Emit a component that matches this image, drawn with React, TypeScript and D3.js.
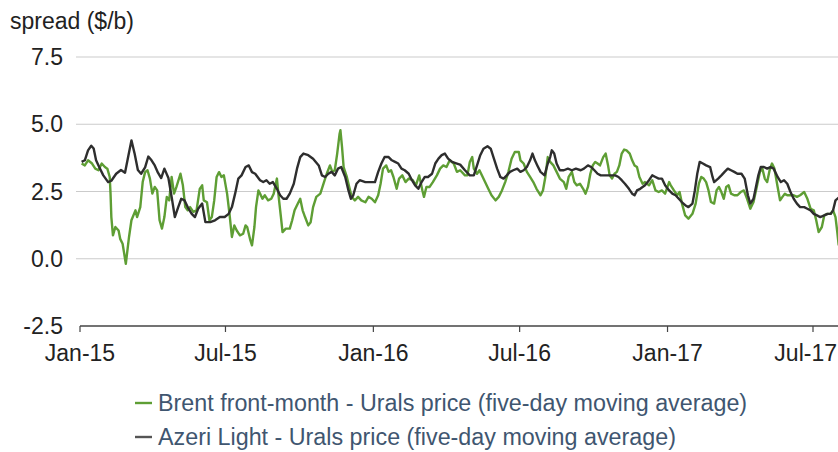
import * as d3 from "d3";

// Brent front-month minus Urals (five-day moving average), $/b
const brentUrals: [string, number][] = [
  ["2015-01-03", 3.54], ["2015-01-07", 3.47], ["2015-01-11", 3.66], ["2015-01-16", 3.54],
  ["2015-01-20", 3.35], ["2015-01-24", 3.29], ["2015-01-28", 3.54], ["2015-02-01", 3.41],
  ["2015-02-04", 3.35], ["2015-02-07", 3.04], ["2015-02-08", 2.42], ["2015-02-09", 1.55],
  ["2015-02-11", 0.87], ["2015-02-14", 1.18], ["2015-02-18", 1.05], ["2015-02-20", 0.74],
  ["2015-02-23", 0.56], ["2015-02-25", 0.19], ["2015-02-27", -0.19], ["2015-03-01", 0.31],
  ["2015-03-03", 0.81], ["2015-03-06", 1.43], ["2015-03-11", 1.8], ["2015-03-13", 1.55],
  ["2015-03-17", 1.92], ["2015-03-20", 2.85], ["2015-03-23", 3.22], ["2015-03-26", 3.29],
  ["2015-03-29", 2.98], ["2015-04-01", 2.42], ["2015-04-04", 2.67], ["2015-04-07", 2.54],
  ["2015-04-10", 1.43], ["2015-04-13", 1.12], ["2015-04-16", 1.55], ["2015-04-19", 2.3],
  ["2015-04-22", 2.17], ["2015-04-25", 3.04], ["2015-04-28", 2.42], ["2015-05-01", 2.67],
  ["2015-05-06", 3.16], ["2015-05-09", 2.73], ["2015-05-12", 1.92], ["2015-05-15", 1.8],
  ["2015-05-18", 1.92], ["2015-05-22", 1.74], ["2015-05-26", 1.8], ["2015-05-30", 2.6],
  ["2015-06-02", 2.73], ["2015-06-04", 2.17], ["2015-06-08", 2.1], ["2015-06-11", 1.43],
  ["2015-06-14", 1.55], ["2015-06-17", 2.17], ["2015-06-20", 3.04], ["2015-06-23", 3.22],
  ["2015-06-26", 3.04], ["2015-06-29", 3.1], ["2015-07-03", 2.42], ["2015-07-06", 1.67],
  ["2015-07-09", 0.81], ["2015-07-12", 1.24], ["2015-07-15", 1.05], ["2015-07-19", 0.87],
  ["2015-07-23", 0.93], ["2015-07-26", 1.24], ["2015-07-28", 1.18], ["2015-08-01", 0.68],
  ["2015-08-03", 0.5], ["2015-08-06", 1.18], ["2015-08-08", 1.92], ["2015-08-11", 2.54],
  ["2015-08-13", 2.42], ["2015-08-16", 2.23], ["2015-08-19", 2.36], ["2015-08-23", 2.17],
  ["2015-08-27", 2.23], ["2015-08-30", 2.42], ["2015-09-03", 2.98], ["2015-09-05", 2.36],
  ["2015-09-08", 1.55], ["2015-09-10", 0.99], ["2015-09-14", 1.12], ["2015-09-19", 1.12],
  ["2015-09-22", 1.43], ["2015-09-25", 1.8], ["2015-09-28", 1.99], ["2015-10-02", 2.23],
  ["2015-10-05", 1.8], ["2015-10-08", 1.55], ["2015-10-12", 1.24], ["2015-10-15", 1.36],
  ["2015-10-18", 1.92], ["2015-10-22", 2.3], ["2015-10-27", 2.42], ["2015-10-31", 2.79],
  ["2015-11-04", 3.16], ["2015-11-08", 3.47], ["2015-11-11", 3.23], ["2015-11-14", 3.29],
  ["2015-11-17", 3.91], ["2015-11-20", 4.65], ["2015-11-21", 4.78], ["2015-11-23", 4.16],
  ["2015-11-25", 3.41], ["2015-11-29", 3.04], ["2015-12-02", 2.67], ["2015-12-05", 2.3],
  ["2015-12-09", 2.17], ["2015-12-13", 2.3], ["2015-12-17", 2.17], ["2015-12-22", 2.1],
  ["2015-12-26", 2.3], ["2015-12-30", 2.23], ["2016-01-03", 2.1], ["2016-01-07", 2.36],
  ["2016-01-10", 2.79], ["2016-01-13", 3.35], ["2016-01-17", 3.47], ["2016-01-20", 3.23],
  ["2016-01-23", 3.29], ["2016-01-26", 3.04], ["2016-01-30", 2.6], ["2016-02-02", 2.98],
  ["2016-02-06", 3.1], ["2016-02-10", 2.85], ["2016-02-14", 2.98], ["2016-02-19", 2.92],
  ["2016-02-23", 2.73], ["2016-02-27", 3.1], ["2016-03-02", 2.54], ["2016-03-04", 2.3],
  ["2016-03-07", 2.67], ["2016-03-11", 2.67], ["2016-03-15", 2.85], ["2016-03-20", 3.1],
  ["2016-03-24", 3.35], ["2016-03-28", 3.47], ["2016-04-01", 3.41], ["2016-04-05", 3.66],
  ["2016-04-10", 3.54], ["2016-04-14", 3.23], ["2016-04-18", 3.29], ["2016-04-24", 3.1],
  ["2016-04-27", 3.1], ["2016-04-30", 3.6], ["2016-05-03", 3.78], ["2016-05-05", 3.35],
  ["2016-05-09", 3.16], ["2016-05-12", 3.29], ["2016-05-15", 3.1], ["2016-05-19", 2.85],
  ["2016-05-23", 2.6], ["2016-05-27", 2.36], ["2016-06-01", 2.17], ["2016-06-05", 2.3],
  ["2016-06-09", 2.54], ["2016-06-13", 2.85], ["2016-06-17", 3.23], ["2016-06-21", 3.72],
  ["2016-06-25", 3.97], ["2016-06-30", 3.97], ["2016-07-02", 3.66], ["2016-07-06", 3.54],
  ["2016-07-10", 3.23], ["2016-07-14", 3.04], ["2016-07-18", 2.85], ["2016-07-22", 2.6],
  ["2016-07-27", 2.36], ["2016-07-30", 2.54], ["2016-08-02", 3.04], ["2016-08-05", 3.78],
  ["2016-08-08", 3.6], ["2016-08-12", 3.47], ["2016-08-16", 3.23], ["2016-08-20", 2.98],
  ["2016-08-25", 2.85], ["2016-08-28", 2.6], ["2016-08-31", 3.04], ["2016-09-04", 3.23],
  ["2016-09-07", 2.85], ["2016-09-10", 2.73], ["2016-09-14", 2.79], ["2016-09-18", 2.6],
  ["2016-09-21", 2.42], ["2016-09-24", 2.67], ["2016-09-27", 3.16], ["2016-09-30", 3.47],
  ["2016-10-03", 3.6], ["2016-10-06", 3.54], ["2016-10-09", 3.47], ["2016-10-13", 3.78],
  ["2016-10-16", 3.91], ["2016-10-19", 3.47], ["2016-10-21", 3.1], ["2016-10-24", 2.98],
  ["2016-10-27", 3.16], ["2016-10-30", 3.23], ["2016-11-02", 3.47], ["2016-11-05", 3.91],
  ["2016-11-08", 4.06], ["2016-11-11", 4.03], ["2016-11-15", 3.91], ["2016-11-18", 3.66],
  ["2016-11-21", 3.47], ["2016-11-24", 3.41], ["2016-11-27", 3.04], ["2016-12-01", 2.79],
  ["2016-12-04", 2.85], ["2016-12-09", 2.73], ["2016-12-13", 2.92], ["2016-12-17", 2.54],
  ["2016-12-21", 2.48], ["2016-12-25", 2.54], ["2016-12-29", 2.42], ["2017-01-03", 2.85],
  ["2017-01-05", 2.73], ["2017-01-09", 2.54], ["2017-01-13", 2.36], ["2017-01-16", 2.48],
  ["2017-01-19", 2.05], ["2017-01-23", 1.61], ["2017-01-27", 1.49], ["2017-02-01", 1.67],
  ["2017-02-05", 2.05], ["2017-02-09", 2.79], ["2017-02-12", 3.04], ["2017-02-15", 2.98],
  ["2017-02-18", 2.85], ["2017-02-21", 2.54], ["2017-02-24", 2.11], ["2017-02-28", 2.05],
  ["2017-03-03", 2.54], ["2017-03-06", 2.67], ["2017-03-09", 2.48], ["2017-03-12", 2.23],
  ["2017-03-15", 2.67], ["2017-03-18", 2.73], ["2017-03-21", 2.42], ["2017-03-25", 2.36],
  ["2017-03-29", 2.36], ["2017-04-02", 2.48], ["2017-04-06", 2.54], ["2017-04-10", 2.23],
  ["2017-04-14", 1.86], ["2017-04-18", 2.11], ["2017-04-22", 2.67], ["2017-04-26", 3.23],
  ["2017-04-29", 3.35], ["2017-05-02", 2.98], ["2017-05-05", 2.85], ["2017-05-08", 3.29],
  ["2017-05-11", 3.54], ["2017-05-14", 3.35], ["2017-05-18", 2.67], ["2017-05-21", 2.17],
  ["2017-05-24", 2.3], ["2017-05-27", 2.42], ["2017-05-30", 2.36], ["2017-06-03", 2.36],
  ["2017-06-07", 2.36], ["2017-06-11", 2.3], ["2017-06-15", 2.36], ["2017-06-20", 2.48],
  ["2017-06-24", 2.23], ["2017-06-28", 1.86], ["2017-07-02", 1.8], ["2017-07-05", 1.43],
  ["2017-07-08", 0.99], ["2017-07-12", 1.18], ["2017-07-15", 1.61], ["2017-07-19", 1.67],
  ["2017-07-23", 1.67], ["2017-07-26", 1.8], ["2017-07-29", 1.55], ["2017-07-31", 1.05],
  ["2017-08-02", 0.5],
];

// Azeri Light minus Urals (five-day moving average), $/b
const azeriUrals: [string, number][] = [
  ["2015-01-03", 3.6], ["2015-01-07", 3.66], ["2015-01-11", 4.03], ["2015-01-15", 4.2],
  ["2015-01-18", 4.1], ["2015-01-21", 3.66], ["2015-01-25", 3.4], ["2015-01-30", 3.1],
  ["2015-02-05", 2.85], ["2015-02-09", 2.9], ["2015-02-15", 3.16], ["2015-02-21", 3.3],
  ["2015-02-26", 3.2], ["2015-03-02", 3.8], ["2015-03-06", 4.4], ["2015-03-10", 3.9],
  ["2015-03-14", 3.3], ["2015-03-18", 3.16], ["2015-03-23", 3.4], ["2015-03-27", 3.8],
  ["2015-03-31", 3.66], ["2015-04-04", 3.47], ["2015-04-08", 3.2], ["2015-04-12", 3.0],
  ["2015-04-16", 3.35], ["2015-04-21", 3.0], ["2015-04-25", 2.3], ["2015-04-29", 1.55],
  ["2015-05-03", 1.9], ["2015-05-07", 2.23], ["2015-05-11", 2.17], ["2015-05-16", 1.86],
  ["2015-05-20", 1.67], ["2015-05-24", 1.55], ["2015-05-28", 1.86], ["2015-06-02", 2.05],
  ["2015-06-06", 1.36], ["2015-06-12", 1.36], ["2015-06-18", 1.43], ["2015-06-24", 1.55],
  ["2015-06-30", 1.55], ["2015-07-05", 1.67], ["2015-07-09", 1.92], ["2015-07-13", 2.42],
  ["2015-07-17", 2.98], ["2015-07-21", 3.1], ["2015-07-26", 3.41], ["2015-07-30", 3.47],
  ["2015-08-03", 3.22], ["2015-08-07", 3.16], ["2015-08-13", 2.92], ["2015-08-17", 2.85],
  ["2015-08-21", 2.92], ["2015-08-25", 2.79], ["2015-08-29", 2.85], ["2015-09-03", 2.6],
  ["2015-09-07", 2.36], ["2015-09-11", 2.23], ["2015-09-15", 2.23], ["2015-09-19", 2.42],
  ["2015-09-24", 2.79], ["2015-09-28", 3.35], ["2015-10-02", 3.78], ["2015-10-06", 3.91],
  ["2015-10-12", 3.85], ["2015-10-18", 3.72], ["2015-10-25", 3.47], ["2015-10-29", 3.1],
  ["2015-11-02", 3.04], ["2015-11-06", 3.16], ["2015-11-10", 3.23], ["2015-11-14", 3.1],
  ["2015-11-18", 3.35], ["2015-11-22", 3.41], ["2015-11-27", 3.04], ["2015-12-01", 2.54],
  ["2015-12-04", 2.23], ["2015-12-07", 2.36], ["2015-12-11", 2.79], ["2015-12-15", 2.92],
  ["2015-12-22", 2.85], ["2015-12-28", 2.85], ["2016-01-03", 2.85], ["2016-01-07", 3.23],
  ["2016-01-11", 3.54], ["2016-01-15", 3.78], ["2016-01-20", 3.78], ["2016-01-24", 3.66],
  ["2016-01-28", 3.6], ["2016-02-01", 3.54], ["2016-02-05", 3.35], ["2016-02-09", 3.29],
  ["2016-02-14", 3.16], ["2016-02-18", 2.92], ["2016-02-22", 2.73], ["2016-02-26", 2.6],
  ["2016-03-01", 2.85], ["2016-03-05", 3.04], ["2016-03-09", 3.04], ["2016-03-14", 3.16],
  ["2016-03-18", 3.54], ["2016-03-22", 3.72], ["2016-03-26", 3.85], ["2016-03-30", 3.91],
  ["2016-04-03", 3.72], ["2016-04-08", 3.6], ["2016-04-14", 3.54], ["2016-04-18", 3.5],
  ["2016-04-24", 3.29], ["2016-04-30", 3.1], ["2016-05-05", 3.1], ["2016-05-09", 3.47],
  ["2016-05-13", 3.85], ["2016-05-17", 4.09], ["2016-05-22", 4.18], ["2016-05-26", 4.09],
  ["2016-05-30", 3.72], ["2016-06-03", 3.35], ["2016-06-07", 3.04], ["2016-06-11", 2.98],
  ["2016-06-15", 3.1], ["2016-06-19", 3.23], ["2016-06-23", 3.29], ["2016-06-28", 3.35],
  ["2016-07-02", 3.23], ["2016-07-06", 3.29], ["2016-07-10", 3.41], ["2016-07-14", 3.66],
  ["2016-07-17", 3.91], ["2016-07-20", 3.66], ["2016-07-23", 3.47], ["2016-07-27", 3.23],
  ["2016-08-01", 3.1], ["2016-08-05", 3.54], ["2016-08-08", 3.78], ["2016-08-10", 4.03],
  ["2016-08-13", 3.91], ["2016-08-16", 3.54], ["2016-08-20", 3.29], ["2016-08-25", 3.29],
  ["2016-08-30", 3.35], ["2016-09-04", 3.29], ["2016-09-09", 3.35], ["2016-09-15", 3.29],
  ["2016-09-19", 3.35], ["2016-09-24", 3.47], ["2016-09-28", 3.41], ["2016-10-02", 3.29],
  ["2016-10-06", 3.16], ["2016-10-10", 3.1], ["2016-10-16", 3.1], ["2016-10-22", 3.1],
  ["2016-10-28", 3.1], ["2016-11-01", 3.04], ["2016-11-05", 2.92], ["2016-11-09", 2.79],
  ["2016-11-14", 2.6], ["2016-11-18", 2.42], ["2016-11-21", 2.36], ["2016-11-24", 2.54],
  ["2016-11-28", 2.6], ["2016-12-04", 2.73], ["2016-12-09", 2.92], ["2016-12-13", 3.1],
  ["2016-12-17", 3.04], ["2016-12-21", 2.98], ["2016-12-25", 2.98], ["2016-12-29", 2.73],
  ["2017-01-03", 2.54], ["2017-01-07", 2.42], ["2017-01-11", 2.36], ["2017-01-15", 2.23],
  ["2017-01-19", 2.1], ["2017-01-23", 1.99], ["2017-01-27", 1.92], ["2017-02-01", 2.05],
  ["2017-02-04", 2.54], ["2017-02-07", 3.16], ["2017-02-10", 3.6], ["2017-02-14", 3.54],
  ["2017-02-18", 3.47], ["2017-02-23", 3.41], ["2017-02-26", 3.04], ["2017-02-28", 2.85],
  ["2017-03-05", 2.98], ["2017-03-09", 3.1], ["2017-03-13", 3.23], ["2017-03-17", 3.35],
  ["2017-03-21", 3.29], ["2017-03-25", 3.23], ["2017-03-29", 3.16], ["2017-04-03", 3.16],
  ["2017-04-07", 2.98], ["2017-04-11", 2.36], ["2017-04-14", 2.05], ["2017-04-18", 2.23],
  ["2017-04-21", 2.67], ["2017-04-24", 3.1], ["2017-04-27", 3.41], ["2017-05-01", 3.41],
  ["2017-05-05", 3.35], ["2017-05-09", 3.41], ["2017-05-13", 3.35], ["2017-05-18", 3.04],
  ["2017-05-22", 2.85], ["2017-05-26", 2.92], ["2017-05-30", 2.79], ["2017-06-03", 2.48],
  ["2017-06-07", 2.23], ["2017-06-11", 2.05], ["2017-06-15", 1.92], ["2017-06-20", 1.92],
  ["2017-06-24", 1.86], ["2017-06-28", 1.8], ["2017-07-02", 1.67], ["2017-07-06", 1.61],
  ["2017-07-10", 1.55], ["2017-07-15", 1.61], ["2017-07-19", 1.67], ["2017-07-23", 1.67],
  ["2017-07-26", 1.8], ["2017-07-29", 2.17], ["2017-08-02", 2.27],
];

const yTicks = [-2.5, 0, 2.5, 5, 7.5];
const xTickDates = ["2015-01-01", "2015-07-01", "2016-01-01", "2016-07-01", "2017-01-01", "2017-07-01"];
const legendLabels = [
  "Brent front-month - Urals price (five-day moving average)",
  "Azeri Light - Urals price (five-day moving average)",
];

const GREEN = "#5e9e34";
const DARK = "#2e2e2e";
const FONT = "'Liberation Sans', Arial, Helvetica, sans-serif";

export default function App() {
  const width = 838;
  const height = 452;
  const parse = d3.timeParse("%Y-%m-%d");
  const fmt = d3.timeFormat("%b-%y");

  const x = d3.scaleTime()
    .domain([parse("2015-01-01")!, parse("2017-07-01")!])
    .range([80, 813]);
  const y = d3.scaleLinear().domain([-2.5, 7.5]).range([326, 57]);

  const line = d3.line<[string, number]>()
    .x(d => x(parse(d[0])!))
    .y(d => y(d[1]));

  const yBottom = y(-2.5);
  // plain hyphen for negatives, like the original
  const yFmt = (v: number) => d3.format(".1f")(v).replace("\u2212", "-");

  return (
    <svg width={width} height={height} style={{ position: "absolute", left: 0, top: 0, background: "#fff" }}
      fontFamily={FONT}>
      <text x={10} y={29} fontSize={23} fill="#222">spread ($/b)</text>

      {yTicks.filter(t => t !== -2.5).map(t => (
        <line key={"g" + t} x1={76} x2={width} y1={y(t)} y2={y(t)} stroke="#cbcbcb" strokeWidth={1.2} />
      ))}
      {yTicks.map(t => (
        <text key={"yl" + t} x={63} y={y(t) + 8} textAnchor="end" fontSize={23} fill="#222">
          {yFmt(t)}
        </text>
      ))}

      <line x1={80} x2={width} y1={yBottom} y2={yBottom} stroke="#444" strokeWidth={1.4} />
      {xTickDates.map((s, i) => {
        const d = parse(s)!;
        const last = i === xTickDates.length - 1;
        return (
          <g key={s}>
            <line x1={x(d)} x2={x(d)} y1={yBottom} y2={yBottom + 6} stroke="#444" strokeWidth={1.2} />
            <text x={last ? width - 1 : x(d)} y={361} textAnchor={last ? "end" : "middle"} fontSize={23} fill="#222">
              {fmt(d)}
            </text>
          </g>
        );
      })}

      <path d={line(brentUrals) ?? ""} fill="none" stroke={GREEN} strokeWidth={2.4} strokeLinejoin="round" />
      <path d={line(azeriUrals) ?? ""} fill="none" stroke={DARK} strokeWidth={2.4} strokeLinejoin="round" />

      {legendLabels.map((label, i) => (
        <g key={label} transform={`translate(0,${403 + i * 34})`}>
          <line x1={135} x2={152} y1={0} y2={0} stroke={i === 0 ? GREEN : "#555"} strokeWidth={2.4} />
          <text x={158} y={8} fontSize={23.3} fill="#3f5670">{label}</text>
        </g>
      ))}
    </svg>
  );
}
